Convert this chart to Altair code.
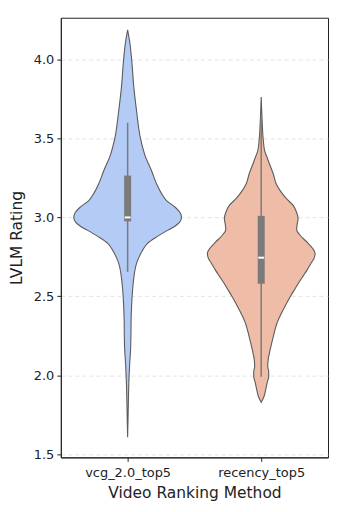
import altair as alt
import pandas as pd

categories = ["vcg_2.0_top5", "recency_top5"]
fills = ["#b4cbf5", "#efbda7"]

# violin profiles: rating values and half-widths (x-axis units)
vcg_rating = [4.188, 4.115, 4.001, 3.819, 3.674, 3.497, 3.390, 3.296, 3.214, 3.151, 3.107,
              3.063, 3.031, 3.000, 2.969, 2.943, 2.918, 2.880, 2.836, 2.792, 2.742, 2.698,
              2.635, 2.540, 2.446, 2.351, 2.257, 2.162, 2.068, 1.974, 1.848, 1.722, 1.608]
vcg_half = [0.0, 0.015, 0.030, 0.047, 0.067, 0.097, 0.131, 0.179, 0.216, 0.254, 0.291,
            0.358, 0.392, 0.403, 0.388, 0.351, 0.299, 0.224, 0.149, 0.112, 0.082, 0.063,
            0.049, 0.037, 0.030, 0.026, 0.025, 0.022, 0.015, 0.010, 0.006, 0.003, 0.0]

rec_rating = [3.762, 3.611, 3.485, 3.422, 3.378, 3.327, 3.277, 3.214, 3.170, 3.120, 3.076,
              3.031, 2.994, 2.956, 2.924, 2.887, 2.843, 2.805, 2.773, 2.742, 2.704, 2.666,
              2.628, 2.591, 2.553, 2.496, 2.414, 2.332, 2.244, 2.162, 2.099, 2.055, 2.024,
              1.992, 1.955, 1.911, 1.866, 1.829]
rec_half = [0.0, 0.007, 0.016, 0.026, 0.045, 0.067, 0.090, 0.112, 0.142, 0.187, 0.239,
            0.265, 0.276, 0.269, 0.265, 0.291, 0.343, 0.384, 0.403, 0.396, 0.369, 0.343,
            0.313, 0.284, 0.257, 0.216, 0.164, 0.119, 0.090, 0.067, 0.052, 0.049, 0.056,
            0.056, 0.045, 0.034, 0.021, 0.0]

# box statistics
q1 = [2.975, 2.58]
median = [3.0, 2.745]
q3 = [3.265, 3.01]
whisker_lo = [2.655, 1.99]
whisker_hi = [3.60, 3.64]

rows = []
for i, (rs, hs) in enumerate([(vcg_rating, vcg_half), (rec_rating, rec_half)]):
    for r, h in zip(rs, hs):
        rows.append({"method": categories[i], "pos": i, "rating": r,
                     "lo": i - h, "hi": i + h})
vdf = pd.DataFrame(rows)

bdf = pd.DataFrame({"method": categories, "pos": [0, 1], "q1": q1, "median": median,
                    "q3": q3, "wlo": whisker_lo, "whi": whisker_hi,
                    "mlo": [p - 0.022 for p in [0, 1]], "mhi": [p + 0.022 for p in [0, 1]]})

xscale = alt.Scale(domain=[-0.5, 1.5], nice=False, zero=False)
yscale = alt.Scale(domain=[1.48, 4.265], nice=False, zero=False)

label_expr = "datum.value == 0 ? '" + categories[0] + "' : '" + categories[1] + "'"

violins = alt.Chart(vdf).mark_area(
    orient="horizontal", interpolate="monotone", stroke="#5c5c5c", strokeWidth=1.1
).encode(
    y=alt.Y("rating:Q", scale=yscale, title="LVLM Rating",
            axis=alt.Axis(values=[1.5, 2.0, 2.5, 3.0, 3.5, 4.0], format=".1f",
                          grid=True, gridDash=[4, 3], gridColor="#dddddd",
                          gridWidth=0.8)),
    x=alt.X("lo:Q", scale=xscale, title="Video Ranking Method",
            axis=alt.Axis(values=[0, 1], labelExpr=label_expr, grid=False)),
    x2="hi:Q",
    fill=alt.Fill("method:N", scale=alt.Scale(domain=categories, range=fills), legend=None),
    detail="method:N",
)

whisk = alt.Chart(bdf).mark_rule(color="#7a7a7a", strokeWidth=1.5).encode(
    x=alt.X("pos:Q", scale=xscale), y=alt.Y("wlo:Q", scale=yscale), y2="whi:Q"
)
box = alt.Chart(bdf).mark_rule(color="#7a7a7a", strokeWidth=7).encode(
    x=alt.X("pos:Q", scale=xscale), y=alt.Y("q1:Q", scale=yscale), y2="q3:Q"
)
med = alt.Chart(bdf).mark_rule(color="white", strokeWidth=2).encode(
    x=alt.X("mlo:Q", scale=xscale), x2="mhi:Q", y=alt.Y("median:Q", scale=yscale)
)

chart = alt.layer(violins, whisk, box, med).properties(
    width=268, height=441,
    autosize=alt.AutoSizeParams(type="none"),
    padding={"left": 53, "top": 9, "right": 2, "bottom": 45},
).configure_view(
    stroke="#222222", strokeWidth=1
).configure_axis(
    labelFont="DejaVu Sans", titleFont="DejaVu Sans", labelFontSize=13,
    titleFontSize=15.5, titleFontWeight="normal", labelColor="#222222",
    titleColor="#222222", domainColor="#222222", tickColor="#222222",
    tickSize=4, labelPadding=3,
).configure_axisY(titlePadding=9).configure_axisX(labelPadding=5, titlePadding=6)

chart.save("out.html", embed_options={"renderer": "svg", "actions": False})
